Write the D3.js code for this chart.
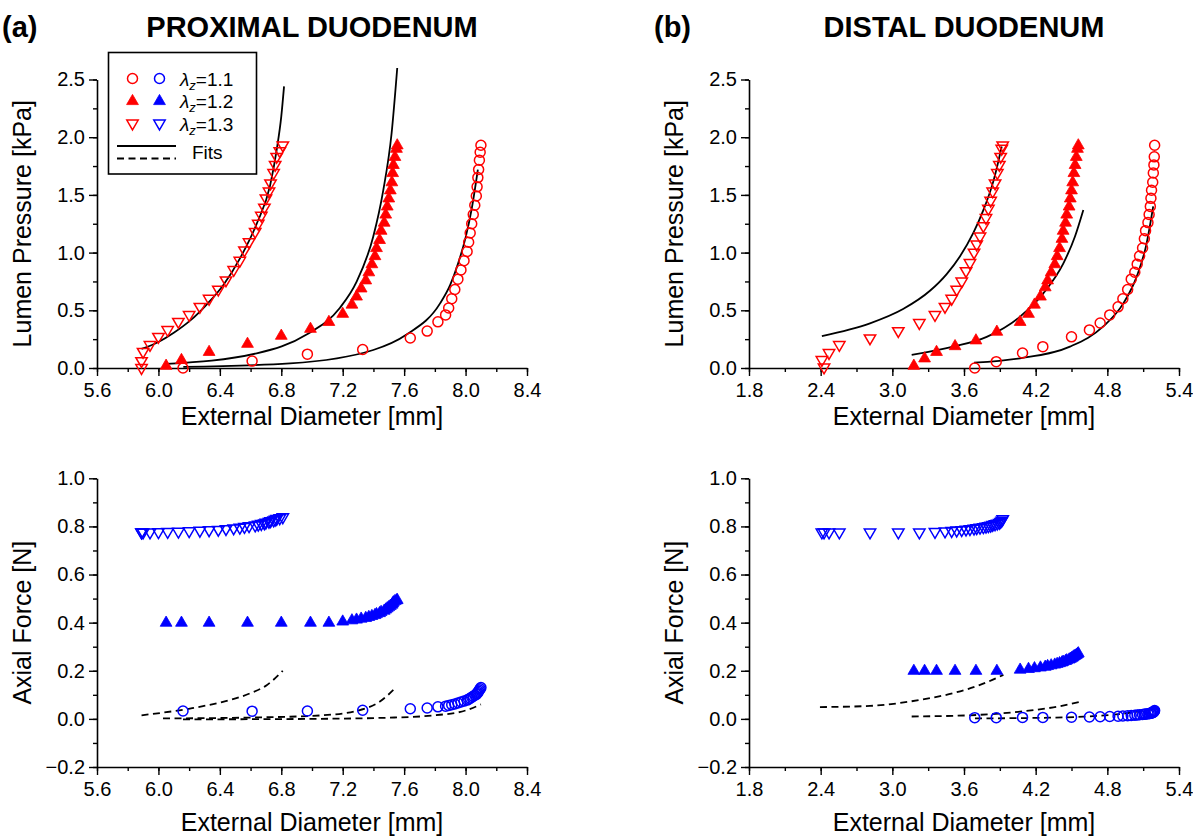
<!DOCTYPE html>
<html><head><meta charset="utf-8">
<script src="https://cdn.jsdelivr.net/npm/d3@7"></script>
<style>body{margin:0;background:#fff}svg{display:block;font-family:"Liberation Sans",Arial,sans-serif}</style>
</head><body><svg id="c" width="1193" height="838"></svg>
<script>
// ---------- DATA ----------
// Panel (a) proximal duodenum
const aX11 = [6.16,6.61,6.97,7.33,7.64,7.75,7.82,7.87,7.89,7.91,7.93,7.95,7.97,7.99,8.01,8.02,8.03,8.04,8.05,8.06,8.07,8.075,8.08,8.085,8.09,8.095,8.10];
const aP11 = [0.0,0.06,0.12,0.16,0.26,0.32,0.40,0.46,0.52,0.60,0.68,0.77,0.85,0.93,1.01,1.09,1.17,1.25,1.33,1.41,1.49,1.57,1.65,1.72,1.80,1.87,1.93];
const aF11 = [0.033,0.032,0.033,0.036,0.042,0.045,0.050,0.053,0.056,0.059,0.062,0.066,0.070,0.074,0.078,0.082,0.086,0.090,0.094,0.098,0.102,0.106,0.110,0.115,0.120,0.125,0.130];
const aX12 = [6.05,6.15,6.33,6.58,6.80,6.99,7.11,7.20,7.26,7.29,7.32,7.35,7.37,7.39,7.41,7.42,7.44,7.45,7.47,7.48,7.49,7.50,7.51,7.52,7.525,7.53,7.54,7.55,7.555];
const aP12 = [0.02,0.07,0.14,0.21,0.28,0.34,0.40,0.47,0.55,0.62,0.69,0.76,0.83,0.90,0.97,1.04,1.11,1.19,1.26,1.33,1.40,1.47,1.54,1.61,1.69,1.76,1.83,1.90,1.93];
const aF12 = [0.40,0.40,0.40,0.40,0.40,0.40,0.40,0.405,0.41,0.413,0.417,0.42,0.424,0.428,0.432,0.436,0.44,0.445,0.45,0.455,0.46,0.465,0.47,0.475,0.48,0.485,0.49,0.493,0.495];
const aX13 = [5.89,5.89,5.90,5.945,6.00,6.06,6.13,6.20,6.27,6.33,6.39,6.44,6.49,6.53,6.56,6.59,6.63,6.65,6.67,6.69,6.70,6.72,6.73,6.75,6.76,6.77,6.79,6.81];
const aP13 = [0.0,0.06,0.14,0.20,0.27,0.33,0.40,0.46,0.53,0.60,0.68,0.76,0.85,0.93,1.02,1.09,1.18,1.25,1.32,1.39,1.47,1.53,1.60,1.69,1.76,1.83,1.88,1.93];
const aF13 = [0.775,0.775,0.775,0.775,0.776,0.777,0.778,0.780,0.782,0.784,0.786,0.789,0.792,0.795,0.798,0.801,0.804,0.807,0.810,0.813,0.816,0.819,0.822,0.825,0.828,0.831,0.834,0.838];
// fits (a)
const aFitPX11 = [6.162,6.857,7.399,7.616,7.834,7.90,7.95,8.00,8.04,8.08];
const aFitPY11 = [0.01,0.04,0.156,0.29,0.56,0.72,0.90,1.13,1.38,1.72];
const aFitPX12 = [6.053,6.64,6.965,7.181,7.29,7.399,7.464,7.518,7.555];
const aFitPY12 = [0.035,0.127,0.29,0.52,0.746,1.14,1.54,2.03,2.60];
const aFitPX13 = [5.89,6.0,6.1,6.206,6.314,6.423,6.531,6.64,6.727,6.77,6.80,6.818];
const aFitPY13 = [0.165,0.225,0.305,0.41,0.55,0.72,0.95,1.25,1.58,1.89,2.18,2.44];
const aFitFX11 = [6.16,7.0,7.5,7.8,8.0,8.1];
const aFitFY11 = [-0.002,0.0,0.005,0.015,0.035,0.06];
const aFitFX12 = [6.03,6.64,7.07,7.29,7.44,7.55];
const aFitFY12 = [0.002,0.006,0.015,0.033,0.071,0.133];
const aFitFX13 = [5.89,6.205,6.42,6.596,6.705,6.81];
const aFitFY13 = [0.015,0.043,0.071,0.106,0.14,0.20];

// Panel (b) distal duodenum
const bX11 = [3.69,3.87,4.09,4.26,4.50,4.65,4.74,4.82,4.89,4.93,4.97,5.00,5.03,5.05,5.07,5.095,5.11,5.12,5.14,5.15,5.16,5.165,5.17,5.18,5.185,5.19,5.193,5.196];
const bP11 = [0.0,0.055,0.13,0.185,0.27,0.33,0.39,0.46,0.53,0.60,0.68,0.77,0.83,0.90,0.97,1.04,1.12,1.19,1.26,1.33,1.40,1.47,1.54,1.61,1.69,1.76,1.83,1.93];
const bF11 = [0.005,0.005,0.006,0.006,0.007,0.008,0.009,0.010,0.011,0.012,0.013,0.014,0.015,0.016,0.017,0.018,0.019,0.020,0.021,0.022,0.023,0.024,0.025,0.026,0.028,0.030,0.032,0.035];
const bX12 = [3.18,3.27,3.37,3.525,3.70,3.875,4.07,4.14,4.19,4.24,4.28,4.30,4.33,4.36,4.38,4.40,4.42,4.43,4.45,4.46,4.48,4.49,4.50,4.51,4.52,4.53,4.54,4.55,4.557];
const bP12 = [0.02,0.084,0.14,0.19,0.24,0.315,0.40,0.47,0.55,0.62,0.70,0.76,0.83,0.90,0.97,1.04,1.12,1.19,1.26,1.33,1.40,1.47,1.54,1.61,1.69,1.76,1.83,1.90,1.93];
const bF12 = [0.20,0.20,0.20,0.20,0.20,0.20,0.205,0.208,0.211,0.214,0.217,0.22,0.223,0.226,0.229,0.232,0.235,0.238,0.241,0.244,0.247,0.25,0.253,0.256,0.26,0.263,0.266,0.27,0.273];
const bX13 = [2.428,2.41,2.47,2.556,2.813,3.05,3.226,3.357,3.441,3.497,3.539,3.581,3.617,3.650,3.684,3.706,3.734,3.762,3.784,3.804,3.823,3.840,3.860,3.879,3.896,3.907,3.916,3.924];
const bP13 = [0.005,0.07,0.13,0.20,0.257,0.32,0.39,0.46,0.53,0.60,0.68,0.75,0.84,0.91,1.00,1.07,1.14,1.23,1.30,1.38,1.45,1.53,1.60,1.69,1.76,1.83,1.90,1.93];
const bF13 = [0.775,0.775,0.775,0.775,0.775,0.775,0.775,0.777,0.779,0.781,0.783,0.785,0.787,0.789,0.791,0.793,0.795,0.797,0.799,0.801,0.803,0.806,0.809,0.812,0.815,0.819,0.824,0.830];
// fits (b)
const bFitPX11 = [3.684,4.069,4.487,4.766,4.934,5.045,5.129,5.184];
const bFitPY11 = [0.046,0.084,0.185,0.36,0.56,0.79,1.08,1.40];
const bFitPX12 = [3.162,3.51,3.79,4.069,4.264,4.432,4.529,4.599];
const bFitPY12 = [0.113,0.185,0.27,0.445,0.647,0.907,1.14,1.37];
const bFitPX13 = [2.41,2.813,3.09,3.315,3.455,3.567,3.678,3.762,3.845,3.916];
const bFitPY13 = [0.277,0.387,0.511,0.669,0.814,0.969,1.171,1.368,1.615,1.92];
const bFitFX11 = [3.692,4.2,4.6,4.9,5.184];
const bFitFY11 = [0.002,0.004,0.009,0.02,0.04];
const bFitFX12 = [3.162,3.65,4.069,4.348,4.585];
const bFitFY12 = [0.01,0.015,0.03,0.048,0.072];
const bFitFX13 = [2.394,2.813,3.232,3.51,3.734,3.93];
const bFitFY13 = [0.049,0.054,0.079,0.107,0.141,0.183];

// ticks / labels
const aXTicks = [5.6,6.0,6.4,6.8,7.2,7.6,8.0,8.4];
const bXTicks = [1.8,2.4,3.0,3.6,4.2,4.8,5.4];
const pTicks = [0.0,0.5,1.0,1.5,2.0,2.5];
const fTicks = [-0.2,0.0,0.2,0.4,0.6,0.8,1.0];
const panelLetters = ["(a)","(b)"];
const panelTitles = ["PROXIMAL DUODENUM","DISTAL DUODENUM"];
const legendLabels = ["1.1","1.2","1.3"];
const xTitle = "External Diameter [mm]";
const pTitle = "Lumen Pressure [kPa]";
const fTitle = "Axial Force [N]";

// ---------- DRAW ----------
const RED = "#ff0000", BLUE = "#0000ff";
const svg = d3.select("#c");
svg.append("rect").attr("width",1193).attr("height",838).attr("fill","#fff");

const zip = (xs, ys) => xs.map((x,i)=>[x, ys[i]]);
const fmt = d3.format(".1f");

function marker(g, type, color, x, y) {
  if (type === "circle") {
    g.append("circle").attr("cx",x).attr("cy",y).attr("r",5)
      .attr("fill","none").attr("stroke",color).attr("stroke-width",1.5);
  } else if (type === "up") {
    g.append("path").attr("transform",`translate(${x},${y})`)
      .attr("d","M0,-6.6L5.9,3.6L-5.9,3.6Z").attr("fill",color).attr("stroke",color).attr("stroke-width",0.8);
  } else {
    g.append("path").attr("transform",`translate(${x},${y})`)
      .attr("d","M0,6.4L5.7,-3.4L-5.7,-3.4Z").attr("fill","none").attr("stroke",color).attr("stroke-width",1.5);
  }
}

function panel(cfg) {
  const x = d3.scaleLinear().domain(cfg.xDom).range(cfg.xRange);
  const y = d3.scaleLinear().domain(cfg.yDom).range(cfg.yRange);
  const g = svg.append("g");
  const xMinor = d3.range(cfg.xDom[0], cfg.xDom[1] + 1e-9, cfg.xMinorStep);
  const yMinor = d3.range(cfg.yDom[0], cfg.yDom[1] + 1e-9, cfg.yMinorStep);
  g.append("g").attr("transform",`translate(0,${cfg.yRange[0]})`)
    .call(d3.axisBottom(x).tickValues(cfg.xTicks).tickFormat(fmt).tickSize(8).tickSizeOuter(0).tickPadding(7));
  g.append("g").attr("transform",`translate(0,${cfg.yRange[0]})`)
    .call(d3.axisBottom(x).tickValues(xMinor).tickFormat("").tickSize(4).tickSizeOuter(0))
    .select(".domain").remove();
  g.append("g").attr("transform",`translate(${cfg.xRange[0]},0)`)
    .call(d3.axisLeft(y).tickValues(cfg.yTicks).tickFormat(fmt).tickSize(8).tickSizeOuter(0).tickPadding(4));
  g.append("g").attr("transform",`translate(${cfg.xRange[0]},0)`)
    .call(d3.axisLeft(y).tickValues(yMinor).tickFormat("").tickSize(4).tickSizeOuter(0))
    .select(".domain").remove();
  g.selectAll(".domain").attr("stroke","#000").attr("stroke-width",1.6);
  g.selectAll(".tick line").attr("stroke","#000").attr("stroke-width",1.4);
  g.selectAll(".tick text").attr("font-size",20).attr("font-family","Liberation Sans, Arial, sans-serif").attr("fill","#000");
  g.append("text").attr("x",(cfg.xRange[0]+cfg.xRange[1])/2).attr("y",cfg.yRange[0]+cfg.xTitleOff)
    .attr("text-anchor","middle").attr("font-size",25).text(xTitle);
  g.append("text").attr("transform",`translate(${cfg.xRange[0]-66},${(cfg.yRange[0]+cfg.yRange[1])/2}) rotate(-90)`)
    .attr("text-anchor","middle").attr("font-size",25).text(cfg.yTitle);

  const line = d3.line().x(d=>x(d[0])).y(d=>y(d[1])).curve(d3.curveMonotoneX);
  cfg.fits.forEach(f => {
    g.append("path").attr("d", line(zip(f[0], f[1]))).attr("fill","none")
      .attr("stroke","#000").attr("stroke-width",1.8)
      .attr("stroke-dasharray", cfg.dashed ? "7,4.5" : null);
  });
  const mg = g.append("g");
  cfg.series.forEach(s => {
    zip(s.xs, s.ys).forEach(p => marker(mg, s.type, cfg.color, x(p[0]), y(p[1])));
  });
}

const aX = {xDom:[5.6,8.4], xRange:[97,527], xTicks:aXTicks, xMinorStep:0.2};
const bX = {xDom:[1.8,5.4], xRange:[749,1179], xTicks:bXTicks, xMinorStep:0.3};
const topY = {yDom:[0,2.5], yRange:[368,79.5], yTicks:pTicks, yMinorStep:0.25, yTitle:pTitle, color:RED, dashed:false, xTitleOff:57};
const botY = {yDom:[-0.2,1.0], yRange:[767,478.3], yTicks:fTicks, yMinorStep:0.1, yTitle:fTitle, color:BLUE, dashed:true, xTitleOff:64};

panel(Object.assign({}, aX, topY, {
  fits:[[aFitPX11,aFitPY11],[aFitPX12,aFitPY12],[aFitPX13,aFitPY13]],
  series:[{xs:aX11,ys:aP11,type:"circle"},{xs:aX12,ys:aP12,type:"up"},{xs:aX13,ys:aP13,type:"down"}]}));
panel(Object.assign({}, aX, botY, {
  fits:[[aFitFX11,aFitFY11],[aFitFX12,aFitFY12],[aFitFX13,aFitFY13]],
  series:[{xs:aX11,ys:aF11,type:"circle"},{xs:aX12,ys:aF12,type:"up"},{xs:aX13,ys:aF13,type:"down"}]}));
panel(Object.assign({}, bX, topY, {
  fits:[[bFitPX11,bFitPY11],[bFitPX12,bFitPY12],[bFitPX13,bFitPY13]],
  series:[{xs:bX11,ys:bP11,type:"circle"},{xs:bX12,ys:bP12,type:"up"},{xs:bX13,ys:bP13,type:"down"}]}));
panel(Object.assign({}, bX, botY, {
  fits:[[bFitFX11,bFitFY11],[bFitFX12,bFitFY12],[bFitFX13,bFitFY13]],
  series:[{xs:bX11,ys:bF11,type:"circle"},{xs:bX12,ys:bF12,type:"up"},{xs:bX13,ys:bF13,type:"down"}]}));

// panel headings
[[2,312],[654,964]].forEach((p,i)=>{
  svg.append("text").attr("x",p[0]).attr("y",37).attr("font-size",29).attr("font-weight","bold").text(panelLetters[i]);
  svg.append("text").attr("x",p[1]).attr("y",37).attr("font-size",29).attr("font-weight","bold")
    .attr("text-anchor","middle").text(panelTitles[i]);
});

// legend
const lg = svg.append("g");
lg.append("rect").attr("x",108.5).attr("y",52.5).attr("width",148).attr("height",121.5)
  .attr("fill","#fff").attr("stroke","#000").attr("stroke-width",1.6);
const types = ["circle","up","down"];
types.forEach((t,i)=>{
  const yy = 78.5 + i*22.5;
  marker(lg, t, RED, 132.5, yy);
  marker(lg, t, BLUE, 159.5, yy);
  const tx = lg.append("text").attr("x",180).attr("y",yy+7).attr("font-size",19);
  tx.append("tspan").attr("font-style","italic").text("λ");
  tx.append("tspan").attr("font-style","italic").attr("font-size",13).attr("dy",4).text("z");
  tx.append("tspan").attr("dy",-4).text("=" + legendLabels[i]);
});
lg.append("line").attr("x1",117).attr("x2",176).attr("y1",146).attr("y2",146).attr("stroke","#000").attr("stroke-width",1.8);
lg.append("line").attr("x1",117).attr("x2",176).attr("y1",158.5).attr("y2",158.5).attr("stroke","#000").attr("stroke-width",1.8).attr("stroke-dasharray","7,4.5");
lg.append("text").attr("x",192).attr("y",159).attr("font-size",19).text("Fits");
</script></body></html>
